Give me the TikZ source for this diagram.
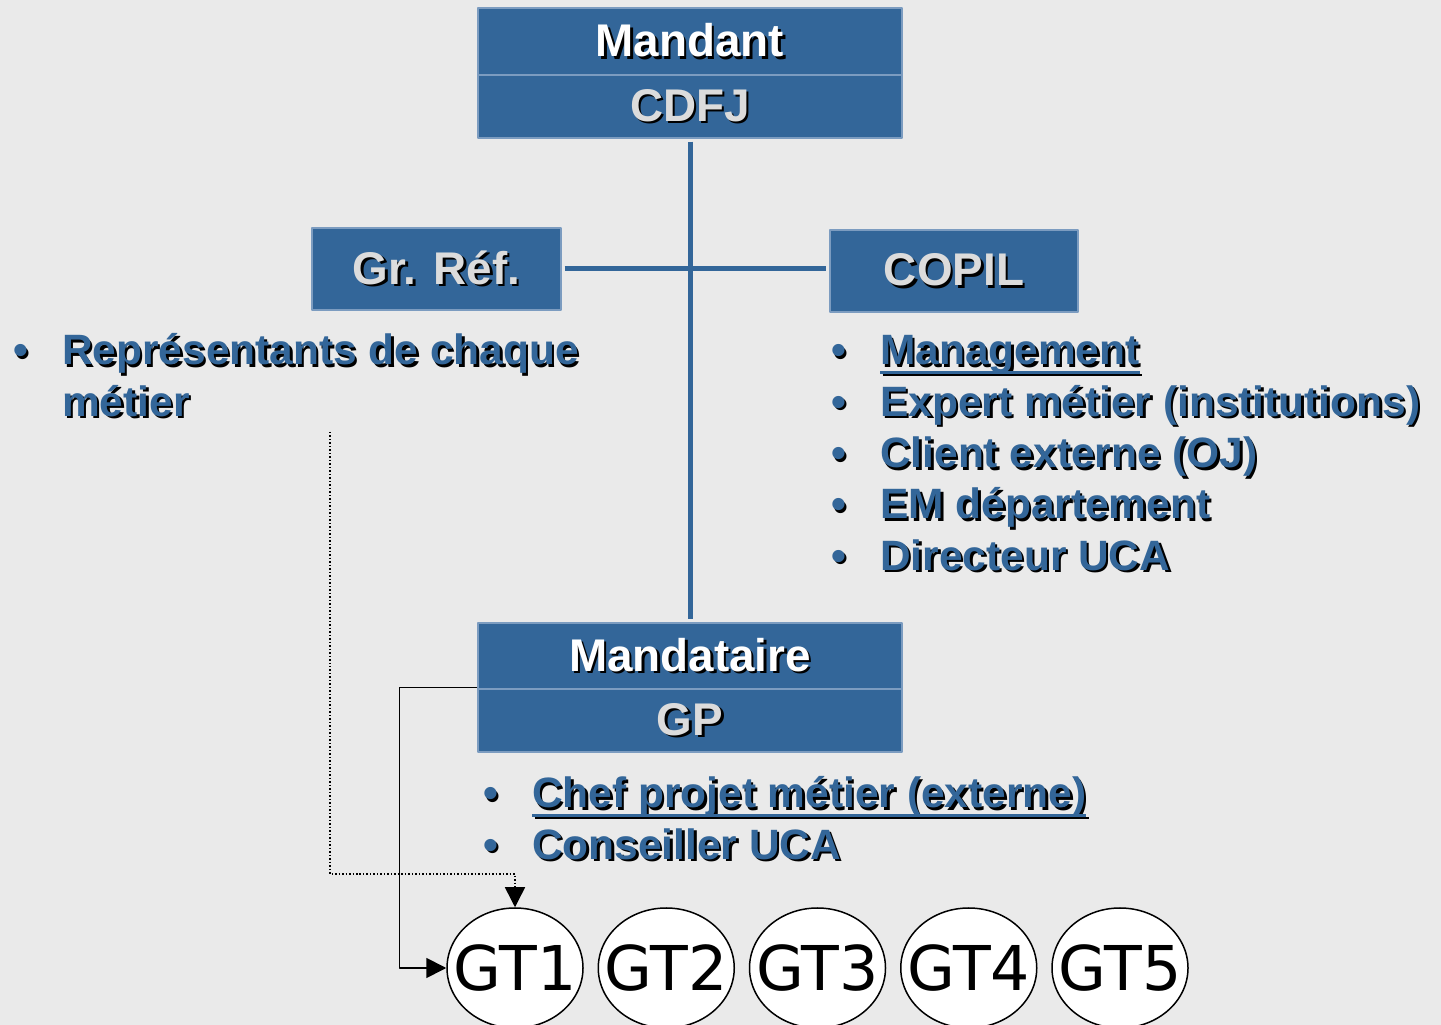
\documentclass[tikz,border=0pt]{standalone}
\usepackage{fontspec}
\setmainfont{Liberation Sans}
\newfontfamily\gtfont{DejaVu Sans}
\usetikzlibrary{shapes.geometric,arrows.meta}
\definecolor{fond}{HTML}{EAEAEA}
\definecolor{boxblue}{HTML}{336699}
\definecolor{boxedge}{HTML}{7C9CC0}
\definecolor{gristexte}{HTML}{DCDCDC}
% text with a dark shadow
\newcommand{\shtxt}[1]{\leavevmode\rlap{\kern2.5bp\raisebox{-2.5bp}{\color{black}#1}}#1}
\newcommand{\souligne}[1]{\setbox0\hbox{#1}\rlap{\rule[-9bp]{\wd0}{2.5bp}}\box0}
\begin{document}
\begin{tikzpicture}[>={Triangle[length=20bp,width=20bp]},line join=bevel,
  box/.style={rectangle,fill=boxblue,draw=boxedge,line width=1.2bp,inner sep=0pt,
    font=\fontsize{46}{50}\selectfont\bfseries},
  liste/.style={anchor=base west,inner sep=0pt,text=boxblue,
    font=\fontsize{42.6}{51.5}\selectfont\bfseries},
  gt/.style={ellipse,draw=black,fill=white,line width=1.5bp,inner xsep=-30bp,inner ysep=0pt,
    minimum width=136bp,minimum height=120bp,font=\gtfont\fontsize{62}{62}\selectfont},
  lien/.style={boxblue,line width=5bp,shorten <=3bp,shorten >=3bp}]
%%
\fill [fond] (0bp,0bp) rectangle (1441bp,1025bp);
\useasboundingbox (0bp,0bp) rectangle (1441bp,1025bp);
%
\node (node_mandant) at (690bp,983.5bp) [box,minimum width=424bp,minimum height=67bp,text=white] {\shtxt{Mandant}};
  \node (node_cdfj) at (690bp,918.5bp) [box,minimum width=424bp,minimum height=63bp,text=gristexte] {\shtxt{CDFJ}};
  \node (node_grref) at (436.5bp,756bp) [box,minimum width=249bp,minimum height=82bp,text=gristexte] {\shtxt{Gr. Réf.}};
  \node (node_copil) at (954bp,754bp) [box,minimum width=248bp,minimum height=82bp,text=gristexte] {\shtxt{COPIL}};
  \node (node_mandataire) at (690bp,369bp) [box,minimum width=424bp,minimum height=66bp,text=white] {\shtxt{Mandataire}};
  \node (node_gp) at (690bp,304.5bp) [box,minimum width=424bp,minimum height=63bp,text=gristexte] {\shtxt{GP}};
%
\draw [lien] (node_cdfj.south) -- (node_mandataire.north);
  \draw [lien] (node_grref.east) -- (node_grref.east -| node_copil.west);
%
\node (node_refliste) at (13bp,660bp) [liste] {\begin{tabular}[t]{@{}p{49bp}@{}l@{}}
  \shtxt{\textbullet} & \shtxt{Représentants de chaque}\\
  & \shtxt{métier}\end{tabular}};
  \node (node_copilliste) at (831bp,660bp) [liste] {\begin{tabular}[t]{@{}p{49bp}@{}l@{}}
  \shtxt{\textbullet} & \shtxt{\souligne{Management}}\\
  \shtxt{\textbullet} & \shtxt{Expert métier (institutions)}\\
  \shtxt{\textbullet} & \shtxt{Client externe (OJ)}\\
  \shtxt{\textbullet} & \shtxt{EM département}\\
  \shtxt{\textbullet} & \shtxt{Directeur UCA}\end{tabular}};
  \node (node_gpliste) at (483bp,217bp) [liste] {\begin{tabular}[t]{@{}p{49bp}@{}l@{}}
  \shtxt{\textbullet} & \shtxt{\souligne{Chef projet métier (externe)}}\\
  \shtxt{\textbullet} & \shtxt{Conseiller UCA}\end{tabular}};
%
\foreach \i [evaluate=\i as \gx using 515+151.25*(\i-1)] in {1,...,5}
  \node (node_gt\i) at (\gx bp,57bp) [gt] {GT\i};
%
\coordinate (node_pointille) at (330bp,593bp);
  \draw [black,->,line width=1.8bp] ([yshift=2bp]node_mandataire.south west) -- ++(-78bp,0bp) |- (node_gt1.west);
  \draw [black,->,dotted,line width=1.5bp] (node_pointille) -- ++(0bp,-442bp) -| (node_gt1.north);
%
\end{tikzpicture}
\end{document}
